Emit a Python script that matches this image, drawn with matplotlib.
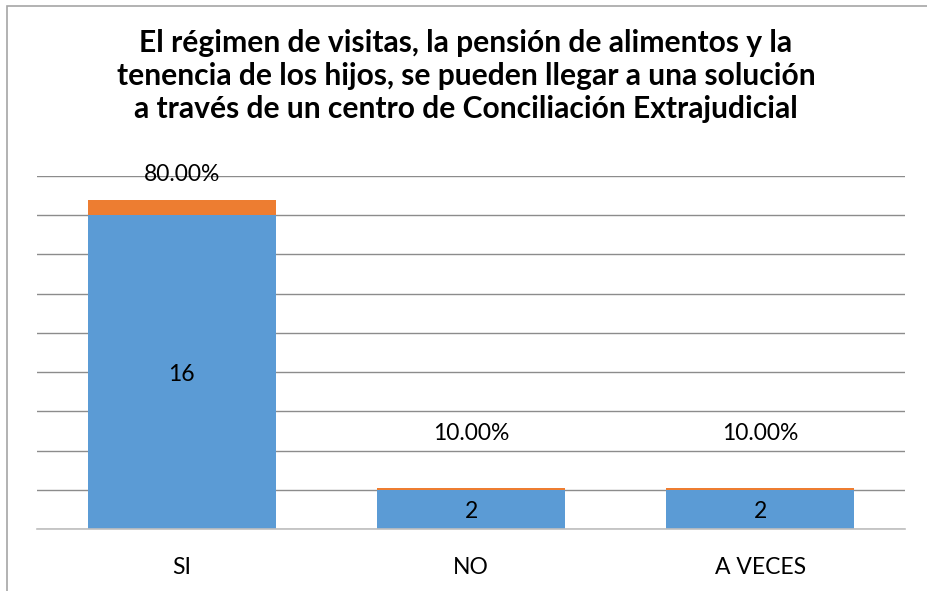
import matplotlib.pyplot as plt
from matplotlib.patches import Rectangle

categories = ['SI', 'NO', 'A VECES']
counts = [16, 2, 2]
shares = [0.8, 0.1, 0.1]
share_labels = ['80.00%', '10.00%', '10.00%']
share_label_y = [18.1, 4.85, 4.85]

plt.rcParams['font.family'] = ['Lato', 'DejaVu Sans']

fig = plt.figure(figsize=(9.27, 5.91), dpi=100)
fig.patches.append(Rectangle((7 / 927, -0.1), 2, 1.1 - 6 / 591, transform=fig.transFigure,
                             fill=False, edgecolor='#a6a6a6', linewidth=1.2))
ax = fig.add_axes([37 / 927, 1 - 529 / 591, 868 / 927, 353 / 591])

x = range(len(categories))
ax.bar(x, counts, width=0.65, color='#5b9bd5', zorder=2)
ax.bar(x, shares, width=0.65, bottom=counts, color='#ed7d31', zorder=2)

for i in x:
    ax.text(i, counts[i] / 2 - 0.1, str(counts[i]), ha='center', va='center', fontsize=16.5, color='#000000')
    ax.text(i, share_label_y[i], share_labels[i], ha='center', va='center', fontsize=16.5, color='#000000')

ax.set_xlim(-0.5, 2.5)
ax.set_ylim(0, 18)
ax.set_yticks(range(0, 19, 2))
ax.yaxis.grid(True, color='#8c8c8c', linewidth=1, zorder=0)
ax.set_yticklabels([])
ax.tick_params(axis='y', length=0)
ax.set_xticks(list(x))
ax.set_xticklabels(categories, fontsize=16.5)
ax.tick_params(axis='x', length=0, pad=20)
for s in ['top', 'right', 'left']:
    ax.spines[s].set_visible(False)
ax.spines['bottom'].set_color('#bfbfbf')
ax.spines['bottom'].set_linewidth(1.2)

fig.text(466 / 927, 1 - 76 / 591,
         'El régimen de visitas, la pensión de alimentos y la\n'
         'tenencia de los hijos, se pueden llegar a una solución\n'
         'a través de un centro de Conciliación Extrajudicial',
         ha='center', va='center', fontsize=21.6, fontweight='bold', linespacing=1.2)

fig.savefig('out.png', dpi=100)
